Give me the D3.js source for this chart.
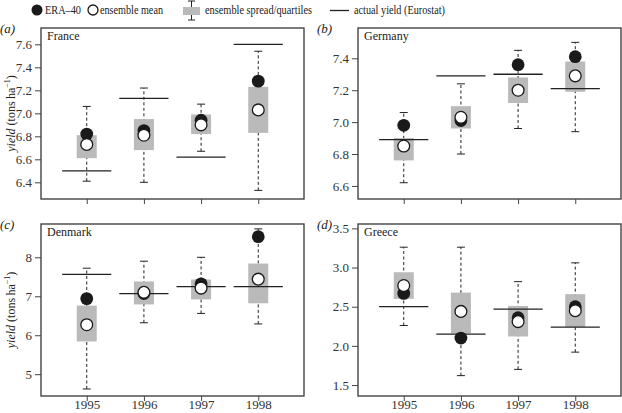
<!DOCTYPE html>
<html lang="en">
<head>
<meta charset="UTF-8">
<title>Wheat yield: ERA-40, ensemble and Eurostat</title>
<style>
  body { margin: 0; background: #fff; }
  svg { display: block; }
  svg text { font-family: "Liberation Serif", "DejaVu Serif", serif; }
  .frame { fill: none; stroke: #444; stroke-width: 1.4px; }
  .axis text { font-size: 13px; fill: #333; }
  .axis line { stroke: #444; }
  .box { fill: #bababa; }
  .whisker { stroke: #222; stroke-width: 1px; stroke-dasharray: 3,2.5; }
  .cap { stroke: #222; stroke-width: 1px; }
  .actual { stroke: #222; stroke-width: 1.3px; }
  .era { fill: #1a1a1a; }
  .mean { fill: #fff; stroke: #1a1a1a; stroke-width: 1.3px; }
</style>
</head>
<body>
<script src="https://cdnjs.cloudflare.com/ajax/libs/d3/7.8.5/d3.min.js"></script>
<script>
// years on the x axis
const years = ['1995', '1996', '1997', '1998'];

// per country: ERA-40 value, ensemble mean, whisker low/high, quartiles, Eurostat yield
const france = {
  era:    [6.82, 6.85, 6.94, 7.28],
  mean:   [6.73, 6.81, 6.90, 7.03],
  lo:     [6.41, 6.40, 6.67, 6.33],
  q1:     [6.61, 6.68, 6.82, 6.83],
  q3:     [6.81, 6.95, 6.99, 7.23],
  hi:     [7.06, 7.22, 7.08, 7.54],
  actual: [6.50, 7.13, 6.62, 7.60]
};
const germany = {
  era:    [6.98, 7.01, 7.36, 7.41],
  mean:   [6.85, 7.03, 7.20, 7.29],
  lo:     [6.62, 6.80, 6.96, 6.94],
  q1:     [6.76, 6.96, 7.12, 7.19],
  q3:     [6.90, 7.10, 7.28, 7.38],
  hi:     [7.06, 7.24, 7.45, 7.50],
  actual: [6.89, 7.29, 7.30, 7.21]
};
const denmark = {
  era:    [6.94, 7.07, 7.32, 8.53],
  mean:   [6.27, 7.10, 7.21, 7.44],
  lo:     [4.62, 6.32, 6.56, 6.29],
  q1:     [5.84, 6.79, 6.92, 6.82],
  q3:     [6.76, 7.38, 7.43, 7.84],
  hi:     [7.72, 7.90, 8.00, 8.73],
  actual: [7.56, 7.07, 7.25, 7.25]
};
const greece = {
  era:    [2.67, 2.10, 2.36, 2.50],
  mean:   [2.77, 2.44, 2.31, 2.45],
  lo:     [2.26, 1.62, 1.70, 1.92],
  q1:     [2.60, 2.16, 2.12, 2.24],
  q3:     [2.94, 2.68, 2.51, 2.66],
  hi:     [3.26, 3.26, 2.82, 3.06],
  actual: [2.50, 2.15, 2.47, 2.24]
};

// tick values per panel
const franceTicks = [6.4, 6.6, 6.8, 7.0, 7.2, 7.4, 7.6];
const germanyTicks = [6.6, 6.8, 7.0, 7.2, 7.4];
const denmarkTicks = [5, 6, 7, 8];
const greeceTicks = [1.5, 2.0, 2.5, 3.0, 3.5];

const panels = [
  { name: 'France',  tag: '(a)', d: france,  ticks: franceTicks,  fmt: '.1f', dom: [6.255, 7.742], x0: 41,  y0: 28,  ytitle: true,  xlab: false },
  { name: 'Germany', tag: '(b)', d: germany, ticks: germanyTicks, fmt: '.1f', dom: [6.518, 7.590], x0: 358, y0: 28,  ytitle: false, xlab: false },
  { name: 'Denmark', tag: '(c)', d: denmark, ticks: denmarkTicks, fmt: 'd',   dom: [4.44, 8.855],  x0: 41,  y0: 224, ytitle: true,  xlab: true },
  { name: 'Greece',  tag: '(d)', d: greece,  ticks: greeceTicks,  fmt: '.1f', dom: [1.36, 3.556],  x0: 358, y0: 224, ytitle: false, xlab: true }
];
const pw = 263, ph = [171, 172];
const serif = '"Liberation Serif", "DejaVu Serif", serif';

const svg = d3.select('body').append('svg')
  .attr('width', 622).attr('height', 413)
  .attr('font-family', serif);

panels.forEach(p => {
  const h = p.y0 < 100 ? ph[0] : ph[1];
  const x = d3.scaleLinear().domain([0.2, 4.8]).range([p.x0, p.x0 + pw]);
  const y = d3.scaleLinear().domain(p.dom).range([p.y0 + h, p.y0]);
  const g = svg.append('g');
  const idx = d3.range(years.length);
  const pos = i => x(i + 1);

  // y axis
  const ya = g.append('g').attr('class', 'axis')
    .attr('transform', `translate(${p.x0},0)`)
    .call(d3.axisLeft(y).tickValues(p.ticks).tickFormat(d3.format(p.fmt)).tickSize(6).tickPadding(3));
  ya.select('.domain').remove();
  ya.attr('font-family', serif).attr('font-size', 13);

  // x axis
  const xa = g.append('g').attr('class', 'axis')
    .attr('transform', `translate(0,${p.y0 + h})`)
    .call(d3.axisBottom(x)
      .tickValues([1, 2, 3, 4]).tickFormat(d => p.xlab ? years[d - 1] : '').tickSize(5).tickPadding(-1));
  xa.select('.domain').remove();
  xa.attr('font-family', serif).attr('font-size', 13);

  // whiskers
  g.selectAll('.wl').data(idx).enter().append('line').attr('class', 'whisker')
    .attr('x1', pos).attr('x2', pos)
    .attr('y1', i => y(p.d.lo[i])).attr('y2', i => y(p.d.hi[i]));
  ['lo', 'hi'].forEach(k => {
    g.selectAll('.c' + k).data(idx).enter().append('line').attr('class', 'cap')
      .attr('x1', i => pos(i) - 4).attr('x2', i => pos(i) + 4)
      .attr('y1', i => y(p.d[k][i])).attr('y2', i => y(p.d[k][i]));
  });

  // quartile boxes
  g.selectAll('.box').data(idx).enter().append('rect').attr('class', 'box')
    .attr('x', i => x(i + 1 - 0.175)).attr('width', x(1.175) - x(0.825))
    .attr('y', i => y(p.d.q3[i])).attr('height', i => y(p.d.q1[i]) - y(p.d.q3[i]));

  // actual yield
  g.selectAll('.actual').data(idx).enter().append('line').attr('class', 'actual')
    .attr('x1', i => x(i + 1 - 0.43)).attr('x2', i => x(i + 1 + 0.43))
    .attr('y1', i => y(p.d.actual[i])).attr('y2', i => y(p.d.actual[i]));

  // points
  g.selectAll('.era').data(idx).enter().append('circle').attr('class', 'era')
    .attr('cx', pos).attr('cy', i => y(p.d.era[i])).attr('r', 6.4);
  g.selectAll('.mean').data(idx).enter().append('circle').attr('class', 'mean')
    .attr('cx', pos).attr('cy', i => y(p.d.mean[i])).attr('r', 5.9);

  // frame
  g.append('rect').attr('class', 'frame')
    .attr('x', p.x0).attr('y', p.y0).attr('width', pw).attr('height', h);

  g.append('text').attr('x', p.x0 + 6).attr('y', p.y0 + 12)
    .attr('font-size', 12).attr('fill', '#222').text(p.name);

  const tagX = p.x0 < 100 ? 0 : 317;
  g.append('text').attr('x', tagX).attr('y', p.y0 + 5)
    .attr('font-size', 13).attr('font-style', 'italic').attr('fill', '#222').text(p.tag);

  if (p.ytitle) {
    const t = g.append('text')
      .attr('transform', `translate(15,${p.y0 + h / 2}) rotate(-90)`)
      .attr('text-anchor', 'middle').attr('font-size', 12).attr('fill', '#222');
    t.append('tspan').attr('font-style', 'italic').text('yield');
    t.append('tspan').text(' (tons\u2009ha');
    t.append('tspan').attr('font-size', 8).attr('dy', -5).text('\u22121');
    t.append('tspan').attr('dy', 5).text(')');
  }
});

// legend
const lg = svg.append('g').attr('font-size', 12).attr('fill', '#222');
const legText = (x, w, s) => lg.append('text').attr('x', x).attr('y', 14)
  .attr('textLength', w).attr('lengthAdjust', 'spacingAndGlyphs').text(s);
lg.append('circle').attr('cx', 37).attr('cy', 10).attr('r', 5.5).attr('class', 'era');
legText(45, 36, 'ERA\u201340');
lg.append('circle').attr('cx', 93).attr('cy', 10).attr('r', 5).attr('class', 'mean');
legText(100, 63, 'ensemble mean');
lg.append('line').attr('class', 'cap').attr('x1', 188).attr('x2', 195).attr('y1', 1).attr('y2', 1);
lg.append('line').attr('class', 'cap').attr('x1', 191.5).attr('x2', 191.5).attr('y1', 1).attr('y2', 20);
lg.append('line').attr('class', 'cap').attr('x1', 188).attr('x2', 195).attr('y1', 20).attr('y2', 20);
lg.append('rect').attr('class', 'box').attr('x', 183).attr('y', 7).attr('width', 17).attr('height', 8);
legText(205, 107, 'ensemble spread/quartiles');
lg.append('line').attr('class', 'actual').attr('x1', 330).attr('x2', 349).attr('y1', 10.5).attr('y2', 10.5);
legText(354, 91, 'actual yield (Eurostat)');
</script>
</body>
</html>
